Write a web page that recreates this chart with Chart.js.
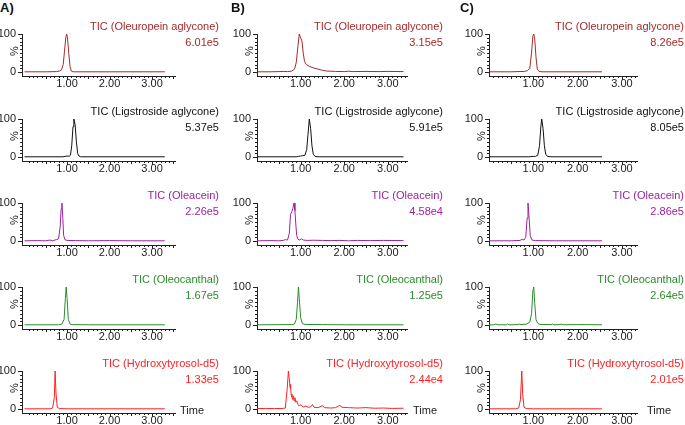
<!DOCTYPE html>
<html>
<head>
<meta charset="utf-8">
<script src="https://cdn.jsdelivr.net/npm/chart.js@4.4.1/dist/chart.umd.min.js"></script>
<style>
  body { margin: 0; background: #fff; }
  #wrap { position: relative; width: 685px; height: 425px; overflow: hidden; font-family: "Liberation Sans", Arial, sans-serif; }
  .cv { position: absolute; }
  .lbl { position: absolute; font-size: 11px; line-height: 16px; text-align: right; white-space: nowrap; }
  .tag { position: absolute; font-size: 13px; font-weight: bold; line-height: 16px; color: #111; }
  .time { position: absolute; font-size: 11px; line-height: 15px; color: #222; }
</style>
</head>
<body>
<div id="wrap"></div>
<script>
const compounds = ['TIC (Oleuropein aglycone)', 'TIC (Ligstroside aglycone)', 'TIC (Oleacein)', 'TIC (Oleocanthal)', 'TIC (Hydroxytyrosol-d5)'];
const colors = ['#a52a2a', '#111111', '#9a249e', '#2a8c2a', '#ff2020'];
const panelTags = ['A)', 'B)', 'C)'];
const xTicks = [1, 2, 3];
const yTicks = [0, 100];

const intensA = ['6.01e5', '5.37e5', '2.26e5', '1.67e5', '1.33e5'];
const intensB = ['3.15e5', '5.91e5', '4.58e4', '1.25e5', '2.44e4'];
const intensC = ['8.26e5', '8.05e5', '2.86e5', '2.64e5', '2.01e5'];

// [time (min), relative intensity %]
const oleuropeinA = [[0,1],[0.5,1],[0.75,1.5],[0.82,3],[0.87,6],[0.91,20],[0.94,55],[0.97,90],[0.99,100],[1.01,90],[1.04,50],[1.07,15],[1.1,3],[1.14,1],[2,1],[3.3,1]];
const ligstrosideA = [[0,1],[0.9,1],[0.95,2],[1.0,3],[1.05,2.5],[1.08,5],[1.11,30],[1.14,80],[1.16,100],[1.19,85],[1.22,40],[1.25,10],[1.28,3],[1.32,1],[3.3,1]];
const oleaceinA = [[0,1],[0.3,1.5],[0.5,1],[0.6,3],[0.65,1],[0.75,4],[0.8,6],[0.84,40],[0.86,85],[0.88,100],[0.9,60],[0.92,15],[0.95,4],[1.0,2],[1.2,1.5],[1.5,1],[2.0,1.5],[2.5,1],[3.3,1]];
const oleocanthalA = [[0,1],[0.8,1],[0.88,3],[0.93,15],[0.96,70],[0.98,100],[1.0,70],[1.03,15],[1.07,3],[1.12,1.5],[1.5,1],[2.5,1],[3.3,1]];
const hydroxyA = [[0,1],[0.6,1],[0.66,3],[0.7,30],[0.72,100],[0.74,40],[0.77,5],[0.82,1.5],[1,1],[3.3,1]];

const oleuropeinB = [[0,1],[0.3,1],[0.5,1.5],[0.6,2],[0.7,1.5],[0.8,3],[0.86,8],[0.9,25],[0.94,70],[0.97,100],[1.0,90],[1.03,82],[1.06,50],[1.09,28],[1.13,20],[1.2,15],[1.3,11],[1.4,8],[1.5,5],[1.6,3],[1.8,2],[2.0,1.5],[2.1,2.5],[2.2,1.5],[2.5,2],[2.8,1.5],[3.0,2],[3.36,1.5]];
const ligstrosideB = [[0,1],[0.9,1],[0.95,2],[1.0,3],[1.05,4],[1.1,5],[1.14,20],[1.17,60],[1.2,100],[1.23,75],[1.26,30],[1.29,8],[1.33,2],[1.4,1],[3.36,1]];
const oleaceinB = [[0,1],[0.3,1.5],[0.5,1],[0.6,2],[0.65,4],[0.7,3],[0.74,20],[0.77,70],[0.8,78],[0.82,85],[0.85,100],[0.87,80],[0.89,45],[0.91,15],[0.94,5],[0.97,3],[1.02,6],[1.06,3],[1.15,2],[1.3,2.5],[1.5,2],[1.7,1.5],[1.9,2],[2.1,1],[2.3,2],[2.6,1.5],[2.9,2],[3.36,1.5]];
const oleocanthalB = [[0,1],[0.8,1.5],[0.86,3],[0.9,15],[0.93,60],[0.95,100],[0.97,70],[1.0,20],[1.04,4],[1.1,2],[1.5,1.5],[2,1],[3.36,1]];
const hydroxyB = [[0,1.5],[0.2,2],[0.4,1.5],[0.6,2],[0.65,3],[0.69,50],[0.72,100],[0.74,80],[0.76,55],[0.77,65],[0.78,40],[0.8,32],[0.82,25],[0.83,35],[0.85,22],[0.87,30],[0.89,18],[0.91,22],[0.94,12],[0.97,8],[1.0,12],[1.03,8],[1.07,6],[1.12,8],[1.18,5],[1.23,6],[1.27,12],[1.31,5],[1.4,4],[1.5,9],[1.55,4],[1.7,3],[1.8,4],[1.9,10],[1.95,5],[2.1,4],[2.3,3],[2.5,4],[2.7,2.5],[2.9,3],[3.1,2],[3.36,2.5]];

const oleuropeinC = [[0,1],[0.5,1],[0.8,2],[0.87,4],[0.92,10],[0.96,50],[0.99,95],[1.01,100],[1.03,90],[1.06,40],[1.09,8],[1.13,2],[1.2,1],[2.55,1]];
const ligstrosideC = [[0,1],[0.9,1],[1.0,2],[1.05,2],[1.1,5],[1.14,30],[1.17,80],[1.19,100],[1.22,75],[1.25,30],[1.28,8],[1.32,2],[1.4,1],[2.55,1]];
const oleaceinC = [[0,1],[0.5,1],[0.7,2],[0.75,5],[0.79,3],[0.83,10],[0.86,60],[0.88,100],[0.9,70],[0.93,15],[0.97,3],[1.05,1.5],[1.5,1],[2.55,1]];
const oleocanthalC = [[0,1],[0.1,1],[0.15,3],[0.2,1],[0.4,1],[0.42,3],[0.45,1],[0.65,1.5],[0.68,3],[0.72,1.5],[0.85,3],[0.92,8],[0.96,30],[0.99,90],[1.01,100],[1.03,60],[1.06,15],[1.1,5],[1.15,2],[1.4,1.5],[1.43,3],[1.47,1],[1.6,1.5],[1.63,3],[1.67,1],[2.0,1.5],[2.55,1]];
const hydroxyC = [[0,1],[0.6,1],[0.67,3],[0.71,25],[0.74,100],[0.76,40],[0.79,5],[0.84,1.5],[1,1],[2.55,1]];

const tracesA = [oleuropeinA, ligstrosideA, oleaceinA, oleocanthalA, hydroxyA];
const tracesB = [oleuropeinB, ligstrosideB, oleaceinB, oleocanthalB, hydroxyB];
const tracesC = [oleuropeinC, ligstrosideC, oleaceinC, oleocanthalC, hydroxyC];

// layout of the three columns (pixels)
const cols = [
  { left: 0,   axis: 22,  end: 175, xmin: -0.06, xmax: 3.54, textRight: 219, timeX: 180, tagX: 0,   traces: tracesA, intens: intensA },
  { left: 230, axis: 257, end: 407, xmin: 0,     xmax: 3.44, textRight: 443, timeX: 413, tagX: 231, traces: tracesB, intens: intensB },
  { left: 462, axis: 489, end: 637, xmin: 0,     xmax: 3.34, textRight: 684, timeX: 647, tagX: 460, traces: tracesC, intens: intensC }
];
const rowTop = r => Math.round(34.3 + 84.25 * r);
const plotH = 42, padTop = 6, xAxisH = 18, padRight = 8;
const fontFam = '"Liberation Sans", Arial, sans-serif';

const wrap = document.getElementById('wrap');

// minor ticks + rotated % label
const tickMarks = {
  id: 'tickMarks',
  afterDraw(chart) {
    const { ctx, chartArea: a } = chart;
    const x = chart.scales.x, y = chart.scales.y;
    ctx.save();
    ctx.strokeStyle = '#222';
    ctx.lineWidth = 1;
    ctx.beginPath();
    for (let i = Math.ceil(x.min * 10 - 1e-6); i <= Math.floor(x.max * 10 + 1e-6); i++) {
      if (i <= 0) continue;
      const px = Math.round(x.getPixelForValue(i / 10)) + 0.5;
      const len = i % 10 === 0 ? 4 : (i % 5 === 0 ? 3 : 2);
      ctx.moveTo(px, a.bottom);
      ctx.lineTo(px, a.bottom + len);
    }
    for (let v = 0; v <= 100; v += 10) {
      const py = Math.round(y.getPixelForValue(v)) + 0.5;
      const len = v % 100 === 0 ? 4 : 2;
      ctx.moveTo(a.left, py);
      ctx.lineTo(a.left - len, py);
    }
    ctx.stroke();
    ctx.fillStyle = '#222';
    ctx.font = '11px ' + fontFam;
    ctx.translate(a.left - 7, y.getPixelForValue(55));
    ctx.rotate(-Math.PI / 2);
    ctx.textAlign = 'center';
    ctx.textBaseline = 'middle';
    ctx.fillText('%', 0, 0);
    ctx.restore();
  }
};

cols.forEach((col, ci) => {
  const tag = document.createElement('div');
  tag.className = 'tag';
  tag.style.left = col.tagX + 'px';
  tag.style.top = '0px';
  tag.textContent = panelTags[ci];
  wrap.appendChild(tag);

  col.traces.forEach((trace, r) => {
    const top = rowTop(r);
    const canvas = document.createElement('canvas');
    const w = col.end - col.left + padRight;
    const h = padTop + plotH + xAxisH;
    canvas.width = w;
    canvas.height = h;
    canvas.className = 'cv';
    canvas.style.left = col.left + 'px';
    canvas.style.top = (top - padTop) + 'px';
    canvas.style.width = w + 'px';
    canvas.style.height = h + 'px';
    wrap.appendChild(canvas);

    new Chart(canvas, {
      type: 'line',
      data: {
        datasets: [{
          data: trace.map(p => ({ x: p[0], y: p[1] })),
          borderColor: colors[r],
          borderWidth: 1,
          pointRadius: 0,
          tension: 0,
          fill: false,
          clip: 3
        }]
      },
      options: {
        responsive: false,
        animation: false,
        devicePixelRatio: 1,
        layout: { padding: { top: padTop, right: padRight, left: 0, bottom: 0 } },
        plugins: { legend: { display: false }, tooltip: { enabled: false } },
        scales: {
          x: {
            type: 'linear',
            min: col.xmin,
            max: col.xmax,
            border: { display: true, color: '#222', width: 1 },
            grid: { display: false, drawTicks: false },
            ticks: {
              padding: 1,
              color: '#222',
              font: { size: 11, family: fontFam },
              autoSkip: false,
              maxRotation: 0,
              callback: v => Number(v).toFixed(2)
            },
            afterBuildTicks: s => { s.ticks = xTicks.map(v => ({ value: v })); },
            afterFit: s => { s.height = xAxisH; s.paddingLeft = 0; s.paddingRight = 0; }
          },
          y: {
            min: -10,
            max: 100,
            border: { display: true, color: '#222', width: 1 },
            grid: { display: false, drawTicks: false },
            ticks: {
              padding: 6,
              color: '#222',
              font: { size: 11, family: fontFam },
              autoSkip: false,
              callback: v => String(v)
            },
            afterBuildTicks: s => { s.ticks = yTicks.map(v => ({ value: v })); },
            afterFit: s => { s.width = col.axis - col.left; s.paddingTop = 0; s.paddingBottom = 0; }
          }
        }
      },
      plugins: [tickMarks]
    });

    const lbl = document.createElement('div');
    lbl.className = 'lbl';
    lbl.style.right = (685 - col.textRight) + 'px';
    lbl.style.top = (top - 16) + 'px';
    lbl.style.color = colors[r];
    lbl.innerHTML = compounds[r] + '<br>' + col.intens[r];
    wrap.appendChild(lbl);

    if (r === col.traces.length - 1) {
      const t = document.createElement('div');
      t.className = 'time';
      t.style.left = col.timeX + 'px';
      t.style.top = (top + plotH - 10) + 'px';
      t.textContent = 'Time';
      wrap.appendChild(t);
    }
  });
});
</script>
</body>
</html>
